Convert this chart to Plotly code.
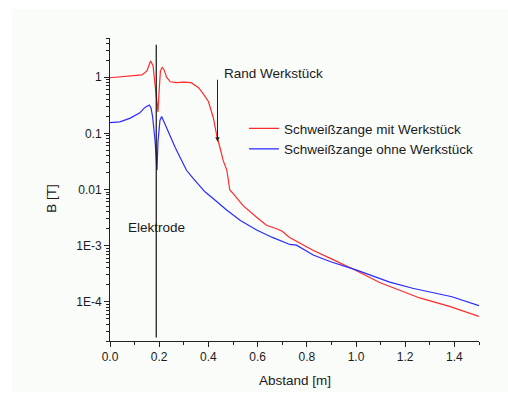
import numpy as np
import plotly.graph_objects as go

# Magnetic flux density vs. distance from the welding gun electrode
abstand_mit = [0.0, 0.03, 0.06, 0.10, 0.13, 0.15, 0.165, 0.175, 0.185, 0.19, 0.195,
               0.200, 0.205, 0.212, 0.22, 0.23, 0.245, 0.27, 0.30, 0.33, 0.36, 0.38,
               0.40, 0.42, 0.435, 0.45, 0.46, 0.475, 0.487, 0.50, 0.54, 0.596, 0.636,
               0.677, 0.70, 0.73, 0.825, 0.90, 1.0, 1.096, 1.18, 1.259, 1.38, 1.5]
b_mit = [0.98, 1.0, 1.02, 1.05, 1.1, 1.3, 1.95, 1.6, 0.6, 0.35, 0.24,
         0.6, 1.3, 1.5, 1.35, 1.0, 0.83, 0.8, 0.82, 0.8, 0.65, 0.5,
         0.37, 0.19, 0.087, 0.05, 0.033, 0.022, 0.0098, 0.0085, 0.0052, 0.0032, 0.0023,
         0.002, 0.0018, 0.0014, 0.00083, 0.00058, 0.00036, 0.00022, 0.00016, 0.000117,
         0.000083, 0.000055]

abstand_ohne = [0.0, 0.04, 0.08, 0.12, 0.142, 0.16, 0.167, 0.173, 0.183, 0.191, 0.195,
                0.203, 0.21, 0.225, 0.244, 0.265, 0.284, 0.311, 0.338, 0.386, 0.43,
                0.474, 0.53, 0.596, 0.66, 0.69, 0.731, 0.758, 0.826, 0.90, 1.0, 1.137,
                1.23, 1.39, 1.5]
b_ohne = [0.155, 0.16, 0.185, 0.23, 0.29, 0.32, 0.28, 0.2, 0.076, 0.022, 0.07,
          0.17, 0.2, 0.14, 0.087, 0.056, 0.038, 0.022, 0.0158, 0.0091, 0.0063,
          0.0043, 0.0028, 0.0019, 0.0014, 0.00125, 0.00105, 0.00102, 0.00068, 0.00051,
          0.00037, 0.000224, 0.000174, 0.000123, 0.000085]

# Electrode position and workpiece edge
elektrode_x = 0.188
elektrode_b = [2.3e-5, 3.8]
rand_x = 0.437
rand_b = [0.96, 0.071]

y_tickvals = [1, 0.1, 0.01, 1e-3, 1e-4]
y_ticktext = ["1", "0.1", "0.01", "1E-3", "1E-4"]

FONT = "Liberation Sans, Arial, sans-serif"
TXT = "#1a1a1a"

fig = go.Figure()

fig.add_trace(go.Scatter(
    x=abstand_mit, y=b_mit, mode="lines", name="Schweißzange mit Werkstück",
    line=dict(color="#ff2a2a", width=1.2),
))
fig.add_trace(go.Scatter(
    x=abstand_ohne, y=b_ohne, mode="lines", name="Schweißzange ohne Werkstück",
    line=dict(color="#2a2aff", width=1.2),
))
fig.add_trace(go.Scatter(
    x=[elektrode_x, elektrode_x], y=elektrode_b, mode="lines", showlegend=False,
    hoverinfo="skip", line=dict(color="#111111", width=1.2),
))

fig.add_annotation(
    x=rand_x, y=np.log10(rand_b[1]), ax=rand_x, ay=np.log10(rand_b[0]),
    xref="x", yref="y", axref="x", ayref="y", text="", showarrow=True,
    arrowhead=2, arrowsize=0.9, arrowwidth=1, arrowcolor="#222222",
)
fig.add_annotation(
    x=0.455, y=0.06, xref="x", yref="y", text="Rand Werkstück", showarrow=False,
    xanchor="left", yanchor="middle", font=dict(family=FONT, size=13.5, color=TXT),
)
fig.add_annotation(
    x=0.189, y=-2.68, xref="x", yref="y", text="Elektrode", showarrow=False,
    xanchor="center", yanchor="middle", font=dict(family=FONT, size=13.5, color=TXT),
)
fig.add_annotation(
    x=-0.158, y=0.472, xref="paper", yref="paper", text="B [T]", showarrow=False,
    textangle=-90, xanchor="center", yanchor="middle",
    font=dict(family=FONT, size=13.5, color=TXT),
)
fig.add_annotation(
    x=0.5, y=-0.132, xref="paper", yref="paper", text="Abstand [m]", showarrow=False,
    xanchor="center", yanchor="middle", font=dict(family=FONT, size=13.5, color=TXT),
)

# faint panel behind the chart
fig.add_shape(
    type="rect", xref="paper", yref="paper", layer="below",
    x0=(12 - 110) / 369, x1=(508 - 110) / 369, y0=(341 - 392) / 303, y1=(341 - 9) / 303,
    fillcolor="#fafcfa", line=dict(width=0),
)

fig.update_layout(
    width=508, height=394,
    margin=dict(l=110, r=29, t=38, b=53),
    paper_bgcolor="white", plot_bgcolor="rgba(0,0,0,0)",
    font=dict(family=FONT, size=12, color=TXT),
    showlegend=True,
    legend=dict(
        x=0.363, y=0.752, xanchor="left", yanchor="top",
        bgcolor="rgba(0,0,0,0)", borderwidth=0,
        font=dict(family=FONT, size=13.5, color=TXT),
        tracegroupgap=0,
    ),
)

fig.update_xaxes(
    range=[0, 1.5], dtick=0.2, tickformat=".1f", showgrid=False, zeroline=False,
    showline=True, linecolor="#222222", linewidth=1,
    ticks="outside", ticklen=5, tickwidth=1, tickcolor="#222222",
    minor=dict(dtick=0.1, ticks="outside", ticklen=3, tickcolor="#222222", showgrid=False),
    tickfont=dict(family=FONT, size=12, color=TXT),
)
fig.update_yaxes(
    type="log", range=[np.log10(2e-5), np.log10(5)], showgrid=False, zeroline=False,
    tickvals=y_tickvals, ticktext=y_ticktext,
    showline=True, linecolor="#222222", linewidth=1,
    ticks="outside", ticklen=5, tickwidth=1, tickcolor="#222222",
    minor=dict(ticks="outside", ticklen=3, tickcolor="#222222", showgrid=False,
               tickvals=[m * 10.0 ** e for e in range(-5, 1) for m in range(2, 10)
                         if 2e-5 <= m * 10.0 ** e <= 5]),
    tickfont=dict(family=FONT, size=12, color=TXT),
)

fig.write_html("out.html")
